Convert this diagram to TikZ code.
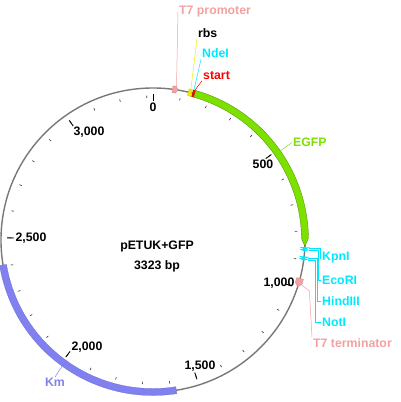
\documentclass[tikz,border=0pt]{standalone}
\usepackage{fontspec}
\setmainfont{Liberation Sans}
\usetikzlibrary{positioning}

\definecolor{promcol}{RGB}{245,160,160}
\definecolor{rbscol}{RGB}{235,235,0}
\definecolor{sitecol}{RGB}{0,232,255}
\definecolor{startcol}{RGB}{255,0,0}
\definecolor{gfpcol}{RGB}{125,225,0}
\definecolor{kmcol}{RGB}{128,128,240}
\definecolor{backbone}{RGB}{120,120,120}

% position (bp) -> angle on the map
\newcommand{\bpang}[1]{90-(#1)/3323*360}
% feature band from #1 to #2 (bp)
\newcommand{\featband}[3]{%
  \filldraw[#3] ({\bpang{#1}}:148.5) arc[start angle={\bpang{#1}},end angle={\bpang{#2}},radius=148.5]
    -- ({\bpang{#2}}:155.5) arc[start angle={\bpang{#2}},end angle={\bpang{#1}},radius=155.5] -- cycle;}
% feature band from #1 to #2 with a point at #3
\newcommand{\featarrow}[4]{%
  \filldraw[#4] ({\bpang{#1}}:148.5) arc[start angle={\bpang{#1}},end angle={\bpang{#2}},radius=148.5]
    -- ({\bpang{#3}}:152) -- ({\bpang{#2}}:155.5)
    arc[start angle={\bpang{#2}},end angle={\bpang{#1}},radius=155.5] -- cycle;}

\begin{document}
\begin{tikzpicture}[
  x=1pt,y=1pt,
  font=\fontsize{12.3}{14}\selectfont\bfseries,
  lbl/.style={inner sep=1pt},
  scalelbl/.style={inner sep=0pt},
  tickmin/.style={black!80,line width=0.6pt},
  tickmaj/.style={black,line width=0.9pt},
  leader/.style={line width=0.5pt}
]
  \useasboundingbox (-153,-162) rectangle (247,240);

  % backbone and scale
  \draw[backbone,line width=1.4pt] (0,0) circle[radius=152];
  \foreach \b in {100,200,...,3300}
    \draw[tickmin] ({\bpang{\b}}:142) -- ({\bpang{\b}}:144.5);
  \foreach \b in {0,500,...,3000}
    \draw[tickmaj] ({\bpang{\b}}:139) -- ({\bpang{\b}}:146);

  \node[scalelbl] (s0) at (0,133) {0};
  \node[scalelbl] (s500) at (110,76) {500};
  \node[scalelbl] (s1000) at (126,-43) {1,000};
  \node[scalelbl] (s1500) at (47,-126) {1,500};
  \node[scalelbl] (s2000) at (-66,-107) {2,000};
  \node[scalelbl] (s2500) at (-122,2) {2,500};
  \node[scalelbl] (s3000) at (-64,108) {3,000};

  \node (name) at (4,-6) {pETUK+GFP};
  \node[below=2pt of name] (size) {3323 bp};

  % features
  \featarrow{68}{80}{88}{promcol,draw=promcol!80!black,line width=0.2pt}
  \featband{124}{136}{rbscol,draw=rbscol!80!black,line width=0.2pt}
  \featband{139}{147}{startcol,draw=startcol!70!black,line width=0.2pt}
  \featarrow{147}{825}{853}{gfpcol,draw=gfpcol!60!black,line width=0.3pt}
  \featband{1580}{2405}{kmcol,draw=kmcol!80!black,line width=0.2pt}
  \featarrow{966}{984}{996}{promcol,draw=promcol!80!black,line width=0.2pt}
  \foreach \b/\nm in {860/kpn,867/eco,892/hind,899/noti}{
    \fill[sitecol] ({\bpang{\b-4}}:146.5) -- ({\bpang{\b-4}}:157.5) -- ({\bpang{\b+4}}:152) -- cycle;
    \coordinate (\nm) at ({\bpang{\b}}:156);
  }

  \coordinate (t7p) at ({\bpang{80}}:156);
  \coordinate (rbs) at ({\bpang{130}}:156);
  \coordinate (nde) at ({\bpang{141}}:156);
  \coordinate (atg) at ({\bpang{145}}:156);
  \coordinate (gfp) at ({\bpang{508}}:156);
  \coordinate (t7t) at ({\bpang{986}}:155);
  \coordinate (km) at ({\bpang{1993}}:148);

  % labels
  \node[lbl,anchor=west,text=promcol] (t7plbl) at (25,228) {T7 promoter};
  \node[lbl,anchor=west] (rbslbl) at (44,207) {rbs};
  \node[lbl,anchor=west,text=sitecol] (ndelbl) at (48,186.5) {NdeI};
  \node[lbl,anchor=west,text=startcol] (atglbl) at (49,164.5) {start};
  \node[lbl,anchor=west,text=gfpcol] (gfplbl) at (139,97.5) {EGFP};
  \node[lbl,anchor=west,text=sitecol] (kpnlbl) at (168,-18) {KpnI};
  \node[lbl,anchor=west,text=sitecol] (ecolbl) at (168,-40) {EcoRI};
  \node[lbl,anchor=west,text=sitecol] (hindlbl) at (168,-61) {HindIII};
  \node[lbl,anchor=west,text=sitecol] (notlbl) at (168,-82) {NotI};
  \node[lbl,anchor=north west,text=promcol] (t7tlbl) at (159,-97) {T7 terminator};
  \node[lbl,text=kmcol] (kmlbl) at (-98,-142.5) {Km};

  \draw[leader,promcol] (t7p) -- (t7plbl.west);
  \draw[leader,rbscol] (rbs) -- (rbslbl.south west);
  \draw[leader,sitecol] (nde) -- (ndelbl.south west);
  \draw[leader,startcol] (atg) -- (atglbl.south west);
  \draw[leader,gfpcol] (gfp) -- (gfplbl.west);
  \draw[leader,sitecol] (kpn) -| ([xshift=-1pt]kpnlbl.west) -- (kpnlbl.west);
  \draw[leader,sitecol] (eco) -| ([xshift=-2.5pt]ecolbl.west) -- (ecolbl.west);
  \draw[leader,sitecol] (hind) -| ([xshift=-4pt]hindlbl.west) -- (hindlbl.west);
  \draw[leader,sitecol] (noti) -| ([xshift=-5.5pt]notlbl.west) -- (notlbl.west);
  \draw[leader,promcol] (t7t) -- ++(8,-6) -- (t7tlbl.north west);
  \draw[leader,kmcol] (km) -- (kmlbl.north);
\end{tikzpicture}
\end{document}
